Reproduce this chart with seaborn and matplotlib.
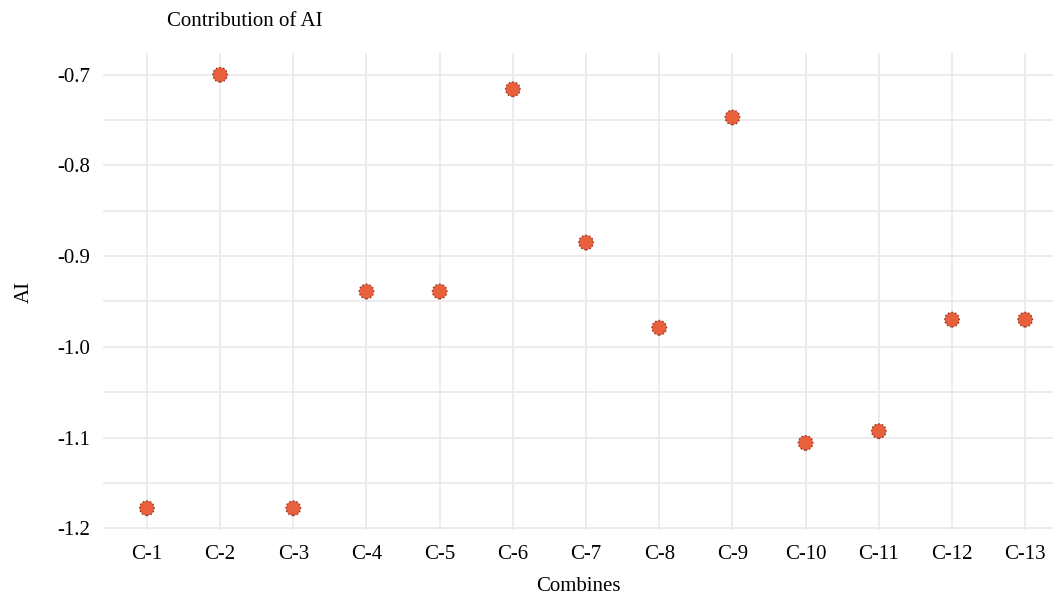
import numpy as np
import pandas as pd
import matplotlib.pyplot as plt
import seaborn as sns

combines = ['C-1', 'C-2', 'C-3', 'C-4', 'C-5', 'C-6', 'C-7',
            'C-8', 'C-9', 'C-10', 'C-11', 'C-12', 'C-13']
ai_values = [-1.178, -0.700, -1.178, -0.939, -0.939, -0.716, -0.885,
             -0.979, -0.747, -1.106, -1.093, -0.970, -0.970]
y_ticks = [-0.7, -0.8, -0.9, -1.0, -1.1, -1.2]

df = pd.DataFrame({'Combines': combines, 'AI': ai_values})

sns.set_theme(style='white')
plt.rcParams['font.family'] = ['Liberation Serif', 'DejaVu Serif']

W, H = 1053, 596
fig = plt.figure(figsize=(W / 100, H / 100), dpi=100)
# axes in pixel coords: left 103, right 1053, top 53, bottom 530
ax = fig.add_axes([103 / W, (H - 530) / H, (1053 - 103) / W, (530 - 53) / H])

sns.scatterplot(data=df, x='Combines', y='AI', ax=ax, s=110,
                color='#E8603C', edgecolor='#8C3322', linewidth=1.0,
                linestyle=':', zorder=3)

ax.set_xlim(-0.6, 12.38)
ax.set_ylim(-1.202, -0.676)
ax.set_yticks(y_ticks)
ax.set_yticklabels([f'{v:.1f}' for v in y_ticks])
ax.set_yticks(np.arange(-1.15, -0.7, 0.1), minor=True)

ax.grid(True, which='major', color='#EBEBEB', linewidth=1.3, zorder=0)
ax.grid(True, which='minor', axis='y', color='#EBEBEB', linewidth=1.3, zorder=0)
ax.set_axisbelow(True)
for sp in ax.spines.values():
    sp.set_visible(False)
ax.tick_params(axis='both', which='both', length=0, labelsize=15, colors='black')
ax.tick_params(axis='x', pad=11)
ax.tick_params(axis='y', pad=9)

ax.set_xlabel('Combines', fontsize=15, labelpad=9, color='black')
ax.set_ylabel('AI', fontsize=15, labelpad=17, color='black')

fig.text(167 / W, 1 - 22 / H, 'Contribution of AI', fontsize=15,
         ha='left', va='center', color='black')

fig.savefig('out.png', dpi=100, facecolor='white')
